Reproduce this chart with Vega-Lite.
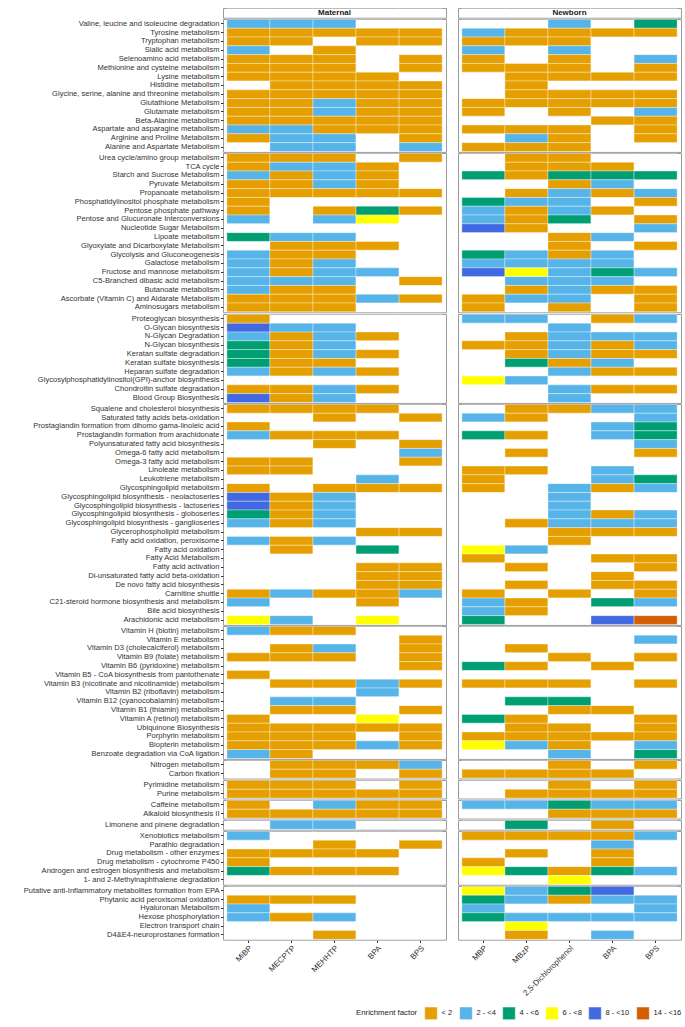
{
  "$schema": "https://vega.github.io/schema/vega-lite/v6.json",
  "padding": {"left": 22, "top": 7, "right": 5, "bottom": 5},
  "config": {
    "font": "Liberation Sans",
    "view": {"stroke": "#9a9a9a", "strokeWidth": 1},
    "axis": {"grid": false, "domain": false, "tickColor": "#333333", "tickSize": 2.5, "labelColor": "#333333", "labelFontSize": 7.55, "labelPadding": 1.5, "labelLimit": 400, "title": null}
  },
  "data": {"values": [
    {"g":0,"o":0,"p":"Maternal","s":"Maternal"},
    {"g":0,"o":0,"p":"Newborn","s":"Newborn"},
    {"g":1,"o":1,"p":"Valine, leucine and isoleucine degradation","s":"Maternal","MiBP":"2 - <4","MECPTP":"2 - <4","MEHHTP":"2 - <4"},
    {"g":1,"o":1,"p":"Valine, leucine and isoleucine degradation","s":"Newborn","2,5-Dichlorophenol":"2 - <4","BPS":"4 - <6"},
    {"g":1,"o":2,"p":"Tyrosine metabolism","s":"Maternal","MiBP":"< 2","MECPTP":"< 2","MEHHTP":"< 2","BPA":"< 2","BPS":"< 2"},
    {"g":1,"o":2,"p":"Tyrosine metabolism","s":"Newborn","MBP":"2 - <4","MBzP":"< 2","2,5-Dichlorophenol":"< 2","BPA":"< 2","BPS":"< 2"},
    {"g":1,"o":3,"p":"Tryptophan metabolism","s":"Maternal","MiBP":"< 2","MECPTP":"< 2","BPA":"< 2","BPS":"< 2"},
    {"g":1,"o":3,"p":"Tryptophan metabolism","s":"Newborn","MBP":"< 2","MBzP":"< 2","2,5-Dichlorophenol":"< 2"},
    {"g":1,"o":4,"p":"Sialic acid metabolism","s":"Maternal","MiBP":"2 - <4","MEHHTP":"< 2"},
    {"g":1,"o":4,"p":"Sialic acid metabolism","s":"Newborn","MBP":"2 - <4","2,5-Dichlorophenol":"2 - <4"},
    {"g":1,"o":5,"p":"Selenoamino acid metabolism","s":"Maternal","MiBP":"< 2","MECPTP":"< 2","MEHHTP":"< 2","BPS":"< 2"},
    {"g":1,"o":5,"p":"Selenoamino acid metabolism","s":"Newborn","MBP":"< 2","2,5-Dichlorophenol":"< 2","BPS":"2 - <4"},
    {"g":1,"o":6,"p":"Methionine and cysteine metabolism","s":"Maternal","MiBP":"< 2","MECPTP":"< 2","MEHHTP":"< 2","BPS":"< 2"},
    {"g":1,"o":6,"p":"Methionine and cysteine metabolism","s":"Newborn","MBP":"< 2","MBzP":"< 2","2,5-Dichlorophenol":"< 2","BPS":"< 2"},
    {"g":1,"o":7,"p":"Lysine metabolism","s":"Maternal","MiBP":"< 2","MECPTP":"< 2","MEHHTP":"< 2","BPA":"< 2"},
    {"g":1,"o":7,"p":"Lysine metabolism","s":"Newborn","MBzP":"< 2","2,5-Dichlorophenol":"< 2","BPA":"< 2","BPS":"< 2"},
    {"g":1,"o":8,"p":"Histidine metabolism","s":"Maternal","MECPTP":"< 2","MEHHTP":"< 2","BPA":"< 2","BPS":"< 2"},
    {"g":1,"o":8,"p":"Histidine metabolism","s":"Newborn","MBzP":"< 2"},
    {"g":1,"o":9,"p":"Glycine, serine, alanine and threonine metabolism","s":"Maternal","MiBP":"< 2","MECPTP":"< 2","MEHHTP":"< 2","BPA":"< 2","BPS":"< 2"},
    {"g":1,"o":9,"p":"Glycine, serine, alanine and threonine metabolism","s":"Newborn","MBzP":"< 2","2,5-Dichlorophenol":"< 2","BPA":"< 2","BPS":"< 2"},
    {"g":1,"o":10,"p":"Glutathione Metabolism","s":"Maternal","MiBP":"< 2","MECPTP":"< 2","MEHHTP":"2 - <4","BPA":"< 2","BPS":"< 2"},
    {"g":1,"o":10,"p":"Glutathione Metabolism","s":"Newborn","MBP":"< 2","MBzP":"< 2","2,5-Dichlorophenol":"< 2","BPA":"< 2","BPS":"< 2"},
    {"g":1,"o":11,"p":"Glutamate metabolism","s":"Maternal","MiBP":"< 2","MECPTP":"< 2","MEHHTP":"2 - <4","BPA":"< 2","BPS":"< 2"},
    {"g":1,"o":11,"p":"Glutamate metabolism","s":"Newborn","MBP":"< 2","2,5-Dichlorophenol":"< 2","BPS":"2 - <4"},
    {"g":1,"o":12,"p":"Beta-Alanine metabolism","s":"Maternal","MiBP":"< 2","MECPTP":"< 2","MEHHTP":"< 2","BPA":"< 2","BPS":"< 2"},
    {"g":1,"o":12,"p":"Beta-Alanine metabolism","s":"Newborn","BPA":"< 2","BPS":"< 2"},
    {"g":1,"o":13,"p":"Aspartate and asparagine metabolism","s":"Maternal","MiBP":"2 - <4","MECPTP":"2 - <4","MEHHTP":"< 2","BPA":"< 2","BPS":"< 2"},
    {"g":1,"o":13,"p":"Aspartate and asparagine metabolism","s":"Newborn","MBP":"< 2","MBzP":"< 2","2,5-Dichlorophenol":"< 2","BPS":"< 2"},
    {"g":1,"o":14,"p":"Arginine and Proline Metabolism","s":"Maternal","MiBP":"< 2","MECPTP":"2 - <4","MEHHTP":"2 - <4","BPS":"< 2"},
    {"g":1,"o":14,"p":"Arginine and Proline Metabolism","s":"Newborn","MBzP":"2 - <4","2,5-Dichlorophenol":"< 2","BPS":"< 2"},
    {"g":1,"o":15,"p":"Alanine and Aspartate Metabolism","s":"Maternal","MECPTP":"2 - <4","MEHHTP":"2 - <4","BPS":"2 - <4"},
    {"g":1,"o":15,"p":"Alanine and Aspartate Metabolism","s":"Newborn","MBP":"< 2","MBzP":"< 2","2,5-Dichlorophenol":"< 2"},

    {"g":2,"o":16,"p":"Urea cycle/amino group metabolism","s":"Maternal","MiBP":"< 2","MECPTP":"< 2","MEHHTP":"< 2","BPS":"< 2"},
    {"g":2,"o":16,"p":"Urea cycle/amino group metabolism","s":"Newborn","MBzP":"< 2","2,5-Dichlorophenol":"< 2"},
    {"g":2,"o":17,"p":"TCA cycle","s":"Maternal","MiBP":"< 2","MECPTP":"2 - <4","MEHHTP":"2 - <4","BPA":"< 2"},
    {"g":2,"o":17,"p":"TCA cycle","s":"Newborn","MBzP":"< 2","2,5-Dichlorophenol":"< 2","BPA":"< 2"},
    {"g":2,"o":18,"p":"Starch and Sucrose Metabolism","s":"Maternal","MiBP":"2 - <4","MECPTP":"< 2","MEHHTP":"2 - <4","BPA":"< 2"},
    {"g":2,"o":18,"p":"Starch and Sucrose Metabolism","s":"Newborn","MBP":"4 - <6","MBzP":"< 2","2,5-Dichlorophenol":"4 - <6","BPA":"4 - <6","BPS":"4 - <6"},
    {"g":2,"o":19,"p":"Pyruvate Metabolism","s":"Maternal","MiBP":"< 2","MECPTP":"< 2","MEHHTP":"2 - <4","BPA":"< 2"},
    {"g":2,"o":19,"p":"Pyruvate Metabolism","s":"Newborn","2,5-Dichlorophenol":"< 2","BPA":"2 - <4"},
    {"g":2,"o":20,"p":"Propanoate metabolism","s":"Maternal","MiBP":"< 2","MECPTP":"< 2","MEHHTP":"< 2","BPA":"< 2","BPS":"< 2"},
    {"g":2,"o":20,"p":"Propanoate metabolism","s":"Newborn","MBzP":"< 2","2,5-Dichlorophenol":"2 - <4","BPA":"< 2","BPS":"2 - <4"},
    {"g":2,"o":21,"p":"Phosphatidylinositol phosphate metabolism","s":"Maternal","MiBP":"< 2"},
    {"g":2,"o":21,"p":"Phosphatidylinositol phosphate metabolism","s":"Newborn","MBP":"4 - <6","MBzP":"2 - <4","2,5-Dichlorophenol":"2 - <4","BPS":"< 2"},
    {"g":2,"o":22,"p":"Pentose phosphate pathway","s":"Maternal","MiBP":"< 2","MEHHTP":"< 2","BPA":"4 - <6","BPS":"< 2"},
    {"g":2,"o":22,"p":"Pentose phosphate pathway","s":"Newborn","MBP":"2 - <4","MBzP":"< 2","2,5-Dichlorophenol":"2 - <4","BPA":"< 2"},
    {"g":2,"o":23,"p":"Pentose and Glucuronate Interconversions","s":"Maternal","MiBP":"2 - <4","MEHHTP":"2 - <4","BPA":"6 - <8"},
    {"g":2,"o":23,"p":"Pentose and Glucuronate Interconversions","s":"Newborn","MBP":"2 - <4","MBzP":"< 2","2,5-Dichlorophenol":"4 - <6","BPS":"< 2"},
    {"g":2,"o":24,"p":"Nucleotide Sugar Metabolism","s":"Maternal"},
    {"g":2,"o":24,"p":"Nucleotide Sugar Metabolism","s":"Newborn","MBP":"8 - <10","MBzP":"< 2","BPS":"2 - <4"},
    {"g":2,"o":25,"p":"Lipoate metabolism","s":"Maternal","MiBP":"4 - <6","MECPTP":"2 - <4","MEHHTP":"2 - <4"},
    {"g":2,"o":25,"p":"Lipoate metabolism","s":"Newborn","2,5-Dichlorophenol":"< 2","BPA":"2 - <4"},
    {"g":2,"o":26,"p":"Glyoxylate and Dicarboxylate Metabolism","s":"Maternal","MECPTP":"< 2","MEHHTP":"< 2","BPA":"< 2"},
    {"g":2,"o":26,"p":"Glyoxylate and Dicarboxylate Metabolism","s":"Newborn","2,5-Dichlorophenol":"< 2","BPS":"< 2"},
    {"g":2,"o":27,"p":"Glycolysis and Gluconeogenesis","s":"Maternal","MiBP":"2 - <4","MECPTP":"< 2","MEHHTP":"< 2"},
    {"g":2,"o":27,"p":"Glycolysis and Gluconeogenesis","s":"Newborn","MBP":"4 - <6","MBzP":"2 - <4","2,5-Dichlorophenol":"< 2","BPA":"2 - <4"},
    {"g":2,"o":28,"p":"Galactose metabolism","s":"Maternal","MiBP":"2 - <4","MECPTP":"< 2","MEHHTP":"2 - <4"},
    {"g":2,"o":28,"p":"Galactose metabolism","s":"Newborn","MBP":"2 - <4","MBzP":"2 - <4","2,5-Dichlorophenol":"2 - <4","BPA":"2 - <4"},
    {"g":2,"o":29,"p":"Fructose and mannose metabolism","s":"Maternal","MiBP":"2 - <4","MECPTP":"< 2","MEHHTP":"2 - <4","BPA":"2 - <4"},
    {"g":2,"o":29,"p":"Fructose and mannose metabolism","s":"Newborn","MBP":"8 - <10","MBzP":"6 - <8","2,5-Dichlorophenol":"2 - <4","BPA":"4 - <6","BPS":"2 - <4"},
    {"g":2,"o":30,"p":"C5-Branched dibasic acid metabolism","s":"Maternal","MiBP":"2 - <4","MECPTP":"2 - <4","MEHHTP":"2 - <4","BPS":"< 2"},
    {"g":2,"o":30,"p":"C5-Branched dibasic acid metabolism","s":"Newborn","MBzP":"2 - <4","2,5-Dichlorophenol":"2 - <4","BPA":"2 - <4"},
    {"g":2,"o":31,"p":"Butanoate metabolism","s":"Maternal","MiBP":"2 - <4","MECPTP":"< 2","MEHHTP":"< 2"},
    {"g":2,"o":31,"p":"Butanoate metabolism","s":"Newborn","MBzP":"< 2","2,5-Dichlorophenol":"2 - <4","BPA":"< 2","BPS":"< 2"},
    {"g":2,"o":32,"p":"Ascorbate (Vitamin C) and Aldarate Metabolism","s":"Maternal","MiBP":"< 2","MECPTP":"< 2","MEHHTP":"< 2","BPA":"2 - <4","BPS":"< 2"},
    {"g":2,"o":32,"p":"Ascorbate (Vitamin C) and Aldarate Metabolism","s":"Newborn","MBP":"< 2","MBzP":"2 - <4","2,5-Dichlorophenol":"2 - <4","BPS":"< 2"},
    {"g":2,"o":33,"p":"Aminosugars metabolism","s":"Maternal","MiBP":"< 2","MECPTP":"< 2","MEHHTP":"< 2"},
    {"g":2,"o":33,"p":"Aminosugars metabolism","s":"Newborn","MBP":"< 2","2,5-Dichlorophenol":"< 2","BPS":"< 2"},

    {"g":3,"o":34,"p":"Proteoglycan biosynthesis","s":"Maternal","MiBP":"< 2"},
    {"g":3,"o":34,"p":"Proteoglycan biosynthesis","s":"Newborn","MBP":"2 - <4","MBzP":"2 - <4","BPA":"< 2","BPS":"2 - <4"},
    {"g":3,"o":35,"p":"O-Glycan biosynthesis","s":"Maternal","MiBP":"8 - <10","MECPTP":"2 - <4","MEHHTP":"2 - <4"},
    {"g":3,"o":35,"p":"O-Glycan biosynthesis","s":"Newborn","2,5-Dichlorophenol":"2 - <4"},
    {"g":3,"o":36,"p":"N-Glycan Degradation","s":"Maternal","MiBP":"2 - <4","MECPTP":"< 2","MEHHTP":"2 - <4","BPA":"< 2"},
    {"g":3,"o":36,"p":"N-Glycan Degradation","s":"Newborn","MBzP":"< 2","2,5-Dichlorophenol":"2 - <4","BPA":"2 - <4","BPS":"2 - <4"},
    {"g":3,"o":37,"p":"N-Glycan biosynthesis","s":"Maternal","MiBP":"4 - <6","MECPTP":"< 2","MEHHTP":"2 - <4"},
    {"g":3,"o":37,"p":"N-Glycan biosynthesis","s":"Newborn","MBP":"< 2","MBzP":"< 2","2,5-Dichlorophenol":"2 - <4","BPA":"< 2","BPS":"2 - <4"},
    {"g":3,"o":38,"p":"Keratan sulfate degradation","s":"Maternal","MiBP":"4 - <6","MECPTP":"< 2","MEHHTP":"2 - <4","BPA":"< 2"},
    {"g":3,"o":38,"p":"Keratan sulfate degradation","s":"Newborn","MBzP":"< 2","2,5-Dichlorophenol":"2 - <4","BPA":"< 2","BPS":"< 2"},
    {"g":3,"o":39,"p":"Keratan sulfate biosynthesis","s":"Maternal","MiBP":"4 - <6","MECPTP":"< 2","MEHHTP":"< 2"},
    {"g":3,"o":39,"p":"Keratan sulfate biosynthesis","s":"Newborn","MBzP":"4 - <6","2,5-Dichlorophenol":"< 2","BPA":"2 - <4"},
    {"g":3,"o":40,"p":"Heparan sulfate degradation","s":"Maternal","MiBP":"2 - <4","MECPTP":"< 2","MEHHTP":"2 - <4","BPA":"< 2"},
    {"g":3,"o":40,"p":"Heparan sulfate degradation","s":"Newborn","2,5-Dichlorophenol":"2 - <4","BPA":"< 2","BPS":"< 2"},
    {"g":3,"o":41,"p":"Glycosylphosphatidylinositol(GPI)-anchor biosynthesis","s":"Maternal"},
    {"g":3,"o":41,"p":"Glycosylphosphatidylinositol(GPI)-anchor biosynthesis","s":"Newborn","MBP":"6 - <8","MBzP":"2 - <4"},
    {"g":3,"o":42,"p":"Chondroitin sulfate degradation","s":"Maternal","MiBP":"< 2","MECPTP":"< 2","MEHHTP":"2 - <4","BPA":"< 2"},
    {"g":3,"o":42,"p":"Chondroitin sulfate degradation","s":"Newborn","2,5-Dichlorophenol":"2 - <4","BPA":"< 2","BPS":"< 2"},
    {"g":3,"o":43,"p":"Blood Group Biosynthesis","s":"Maternal","MiBP":"8 - <10","MECPTP":"< 2","MEHHTP":"2 - <4"},
    {"g":3,"o":43,"p":"Blood Group Biosynthesis","s":"Newborn","2,5-Dichlorophenol":"2 - <4"},

    {"g":4,"o":44,"p":"Squalene and cholesterol biosynthesis","s":"Maternal","MiBP":"< 2","MECPTP":"< 2","MEHHTP":"< 2","BPA":"< 2"},
    {"g":4,"o":44,"p":"Squalene and cholesterol biosynthesis","s":"Newborn","MBzP":"< 2","2,5-Dichlorophenol":"< 2","BPA":"2 - <4","BPS":"2 - <4"},
    {"g":4,"o":45,"p":"Saturated fatty acids beta-oxidation","s":"Maternal","MEHHTP":"< 2","BPS":"< 2"},
    {"g":4,"o":45,"p":"Saturated fatty acids beta-oxidation","s":"Newborn","MBP":"2 - <4","MBzP":"< 2","BPS":"2 - <4"},
    {"g":4,"o":46,"p":"Prostaglandin formation from dihomo gama-linoleic acid","s":"Maternal","MiBP":"< 2"},
    {"g":4,"o":46,"p":"Prostaglandin formation from dihomo gama-linoleic acid","s":"Newborn","BPA":"2 - <4","BPS":"4 - <6"},
    {"g":4,"o":47,"p":"Prostaglandin formation from arachidonate","s":"Maternal","MiBP":"2 - <4","MECPTP":"< 2","MEHHTP":"< 2","BPA":"< 2"},
    {"g":4,"o":47,"p":"Prostaglandin formation from arachidonate","s":"Newborn","MBP":"4 - <6","MBzP":"< 2","BPA":"2 - <4","BPS":"4 - <6"},
    {"g":4,"o":48,"p":"Polyunsaturated fatty acid biosynthesis","s":"Maternal","MEHHTP":"< 2","BPS":"< 2"},
    {"g":4,"o":48,"p":"Polyunsaturated fatty acid biosynthesis","s":"Newborn","BPS":"2 - <4"},
    {"g":4,"o":49,"p":"Omega-6 fatty acid metabolism","s":"Maternal","BPS":"2 - <4"},
    {"g":4,"o":49,"p":"Omega-6 fatty acid metabolism","s":"Newborn","MBzP":"< 2","BPS":"< 2"},
    {"g":4,"o":50,"p":"Omega-3 fatty acid metabolism","s":"Maternal","MiBP":"< 2","MECPTP":"< 2","BPS":"< 2"},
    {"g":4,"o":50,"p":"Omega-3 fatty acid metabolism","s":"Newborn"},
    {"g":4,"o":51,"p":"Linoleate metabolism","s":"Maternal","MiBP":"< 2","MECPTP":"< 2"},
    {"g":4,"o":51,"p":"Linoleate metabolism","s":"Newborn","MBP":"< 2","MBzP":"< 2","BPA":"2 - <4"},
    {"g":4,"o":52,"p":"Leukotriene metabolism","s":"Maternal","BPA":"2 - <4"},
    {"g":4,"o":52,"p":"Leukotriene metabolism","s":"Newborn","MBP":"< 2","BPA":"2 - <4","BPS":"4 - <6"},
    {"g":4,"o":53,"p":"Glycosphingolipid metabolism","s":"Maternal","MiBP":"< 2","MEHHTP":"< 2","BPA":"< 2","BPS":"< 2"},
    {"g":4,"o":53,"p":"Glycosphingolipid metabolism","s":"Newborn","MBP":"< 2","2,5-Dichlorophenol":"2 - <4","BPA":"< 2","BPS":"2 - <4"},
    {"g":4,"o":54,"p":"Glycosphingolipid biosynthesis - neolactoseries","s":"Maternal","MiBP":"8 - <10","MECPTP":"< 2","MEHHTP":"2 - <4"},
    {"g":4,"o":54,"p":"Glycosphingolipid biosynthesis - neolactoseries","s":"Newborn","2,5-Dichlorophenol":"2 - <4"},
    {"g":4,"o":55,"p":"Glycosphingolipid biosynthesis - lactoseries","s":"Maternal","MiBP":"8 - <10","MECPTP":"< 2","MEHHTP":"2 - <4"},
    {"g":4,"o":55,"p":"Glycosphingolipid biosynthesis - lactoseries","s":"Newborn","2,5-Dichlorophenol":"2 - <4"},
    {"g":4,"o":56,"p":"Glycosphingolipid biosynthesis - globoseries","s":"Maternal","MiBP":"4 - <6","MECPTP":"< 2","MEHHTP":"2 - <4"},
    {"g":4,"o":56,"p":"Glycosphingolipid biosynthesis - globoseries","s":"Newborn","2,5-Dichlorophenol":"2 - <4","BPA":"< 2","BPS":"2 - <4"},
    {"g":4,"o":57,"p":"Glycosphingolipid biosynthesis - ganglioseries","s":"Maternal","MiBP":"2 - <4","MECPTP":"< 2","MEHHTP":"2 - <4"},
    {"g":4,"o":57,"p":"Glycosphingolipid biosynthesis - ganglioseries","s":"Newborn","MBzP":"< 2","2,5-Dichlorophenol":"2 - <4","BPA":"2 - <4","BPS":"2 - <4"},
    {"g":4,"o":58,"p":"Glycerophospholipid metabolism","s":"Maternal","BPA":"< 2","BPS":"< 2"},
    {"g":4,"o":58,"p":"Glycerophospholipid metabolism","s":"Newborn","2,5-Dichlorophenol":"< 2","BPA":"< 2","BPS":"< 2"},
    {"g":4,"o":59,"p":"Fatty acid oxidation, peroxisome","s":"Maternal","MiBP":"2 - <4","MECPTP":"< 2","MEHHTP":"2 - <4"},
    {"g":4,"o":59,"p":"Fatty acid oxidation, peroxisome","s":"Newborn","2,5-Dichlorophenol":"< 2"},
    {"g":4,"o":60,"p":"Fatty acid oxidation","s":"Maternal","MECPTP":"< 2","BPA":"4 - <6"},
    {"g":4,"o":60,"p":"Fatty acid oxidation","s":"Newborn","MBP":"6 - <8","MBzP":"2 - <4"},
    {"g":4,"o":61,"p":"Fatty Acid Metabolism","s":"Maternal"},
    {"g":4,"o":61,"p":"Fatty Acid Metabolism","s":"Newborn","MBP":"< 2","BPA":"< 2","BPS":"< 2"},
    {"g":4,"o":62,"p":"Fatty acid activation","s":"Maternal","BPA":"< 2","BPS":"< 2"},
    {"g":4,"o":62,"p":"Fatty acid activation","s":"Newborn","MBzP":"< 2","BPS":"< 2"},
    {"g":4,"o":63,"p":"Di-unsaturated fatty acid beta-oxidation","s":"Maternal","BPA":"< 2","BPS":"< 2"},
    {"g":4,"o":63,"p":"Di-unsaturated fatty acid beta-oxidation","s":"Newborn","BPA":"< 2"},
    {"g":4,"o":64,"p":"De novo fatty acid biosynthesis","s":"Maternal","BPA":"< 2","BPS":"< 2"},
    {"g":4,"o":64,"p":"De novo fatty acid biosynthesis","s":"Newborn","MBzP":"< 2","BPA":"< 2","BPS":"< 2"},
    {"g":4,"o":65,"p":"Carnitine shuttle","s":"Maternal","MiBP":"< 2","MECPTP":"2 - <4","MEHHTP":"< 2","BPA":"< 2","BPS":"2 - <4"},
    {"g":4,"o":65,"p":"Carnitine shuttle","s":"Newborn","MBP":"< 2","2,5-Dichlorophenol":"< 2","BPS":"< 2"},
    {"g":4,"o":66,"p":"C21-steroid hormone biosynthesis and metabolism","s":"Maternal","MiBP":"2 - <4","BPA":"< 2"},
    {"g":4,"o":66,"p":"C21-steroid hormone biosynthesis and metabolism","s":"Newborn","MBP":"2 - <4","MBzP":"< 2","BPA":"4 - <6","BPS":"2 - <4"},
    {"g":4,"o":67,"p":"Bile acid biosynthesis","s":"Maternal"},
    {"g":4,"o":67,"p":"Bile acid biosynthesis","s":"Newborn","MBP":"2 - <4","MBzP":"< 2"},
    {"g":4,"o":68,"p":"Arachidonic acid metabolism","s":"Maternal","MiBP":"6 - <8","MECPTP":"2 - <4","BPA":"6 - <8"},
    {"g":4,"o":68,"p":"Arachidonic acid metabolism","s":"Newborn","MBP":"4 - <6","BPA":"8 - <10","BPS":"14 - <16"},

    {"g":5,"o":69,"p":"Vitamin H (biotin) metabolism","s":"Maternal","MiBP":"2 - <4","MECPTP":"< 2","MEHHTP":"< 2"},
    {"g":5,"o":69,"p":"Vitamin H (biotin) metabolism","s":"Newborn"},
    {"g":5,"o":70,"p":"Vitamin E metabolism","s":"Maternal","BPS":"< 2"},
    {"g":5,"o":70,"p":"Vitamin E metabolism","s":"Newborn","BPS":"2 - <4"},
    {"g":5,"o":71,"p":"Vitamin D3 (cholecalciferol) metabolism","s":"Maternal","MECPTP":"< 2","MEHHTP":"2 - <4","BPS":"< 2"},
    {"g":5,"o":71,"p":"Vitamin D3 (cholecalciferol) metabolism","s":"Newborn","MBzP":"< 2"},
    {"g":5,"o":72,"p":"Vitamin B9 (folate) metabolism","s":"Maternal","MiBP":"< 2","MECPTP":"< 2","MEHHTP":"< 2","BPS":"< 2"},
    {"g":5,"o":72,"p":"Vitamin B9 (folate) metabolism","s":"Newborn","2,5-Dichlorophenol":"< 2","BPS":"< 2"},
    {"g":5,"o":73,"p":"Vitamin B6 (pyridoxine) metabolism","s":"Maternal","BPS":"< 2"},
    {"g":5,"o":73,"p":"Vitamin B6 (pyridoxine) metabolism","s":"Newborn","MBP":"4 - <6","MBzP":"< 2","BPA":"< 2"},
    {"g":5,"o":74,"p":"Vitamin B5 - CoA biosynthesis from pantothenate","s":"Maternal","MiBP":"< 2"},
    {"g":5,"o":74,"p":"Vitamin B5 - CoA biosynthesis from pantothenate","s":"Newborn"},
    {"g":5,"o":75,"p":"Vitamin B3 (nicotinate and nicotinamide) metabolism","s":"Maternal","MECPTP":"< 2","MEHHTP":"< 2","BPA":"2 - <4","BPS":"< 2"},
    {"g":5,"o":75,"p":"Vitamin B3 (nicotinate and nicotinamide) metabolism","s":"Newborn","MBP":"< 2","MBzP":"< 2","2,5-Dichlorophenol":"< 2","BPS":"< 2"},
    {"g":5,"o":76,"p":"Vitamin B2 (riboflavin) metabolism","s":"Maternal","BPA":"2 - <4"},
    {"g":5,"o":76,"p":"Vitamin B2 (riboflavin) metabolism","s":"Newborn"},
    {"g":5,"o":77,"p":"Vitamin B12 (cyanocobalamin) metabolism","s":"Maternal","MECPTP":"2 - <4","MEHHTP":"2 - <4"},
    {"g":5,"o":77,"p":"Vitamin B12 (cyanocobalamin) metabolism","s":"Newborn","MBzP":"4 - <6","2,5-Dichlorophenol":"4 - <6"},
    {"g":5,"o":78,"p":"Vitamin B1 (thiamin) metabolism","s":"Maternal","MECPTP":"< 2","MEHHTP":"< 2","BPS":"< 2"},
    {"g":5,"o":78,"p":"Vitamin B1 (thiamin) metabolism","s":"Newborn","2,5-Dichlorophenol":"< 2","BPA":"< 2"},
    {"g":5,"o":79,"p":"Vitamin A (retinol) metabolism","s":"Maternal","MiBP":"< 2","BPA":"6 - <8"},
    {"g":5,"o":79,"p":"Vitamin A (retinol) metabolism","s":"Newborn","MBP":"4 - <6","MBzP":"< 2","BPS":"< 2"},
    {"g":5,"o":80,"p":"Ubiquinone Biosynthesis","s":"Maternal","MiBP":"< 2","MECPTP":"< 2","MEHHTP":"< 2","BPA":"< 2","BPS":"< 2"},
    {"g":5,"o":80,"p":"Ubiquinone Biosynthesis","s":"Newborn","MBzP":"< 2","2,5-Dichlorophenol":"< 2","BPS":"< 2"},
    {"g":5,"o":81,"p":"Porphyrin metabolism","s":"Maternal","MiBP":"< 2","MECPTP":"< 2","MEHHTP":"< 2","BPS":"< 2"},
    {"g":5,"o":81,"p":"Porphyrin metabolism","s":"Newborn","MBP":"< 2","MBzP":"< 2","2,5-Dichlorophenol":"< 2","BPA":"< 2","BPS":"< 2"},
    {"g":5,"o":82,"p":"Biopterin metabolism","s":"Maternal","MiBP":"< 2","MECPTP":"< 2","MEHHTP":"< 2","BPA":"2 - <4","BPS":"< 2"},
    {"g":5,"o":82,"p":"Biopterin metabolism","s":"Newborn","MBP":"6 - <8","MBzP":"2 - <4","2,5-Dichlorophenol":"< 2","BPS":"2 - <4"},
    {"g":5,"o":83,"p":"Benzoate degradation via CoA ligation","s":"Maternal","MiBP":"2 - <4","MECPTP":"< 2"},
    {"g":5,"o":83,"p":"Benzoate degradation via CoA ligation","s":"Newborn","2,5-Dichlorophenol":"2 - <4","BPS":"4 - <6"},

    {"g":6,"o":84,"p":"Nitrogen metabolism","s":"Maternal","MECPTP":"< 2","MEHHTP":"< 2","BPA":"< 2","BPS":"2 - <4"},
    {"g":6,"o":84,"p":"Nitrogen metabolism","s":"Newborn","2,5-Dichlorophenol":"< 2","BPS":"< 2"},
    {"g":6,"o":85,"p":"Carbon fixation","s":"Maternal","MECPTP":"< 2","MEHHTP":"< 2","BPS":"< 2"},
    {"g":6,"o":85,"p":"Carbon fixation","s":"Newborn","MBP":"< 2","MBzP":"< 2","2,5-Dichlorophenol":"< 2","BPA":"< 2"},

    {"g":7,"o":86,"p":"Pyrimidine metabolism","s":"Maternal","MiBP":"< 2","MECPTP":"< 2","MEHHTP":"< 2","BPS":"< 2"},
    {"g":7,"o":86,"p":"Pyrimidine metabolism","s":"Newborn","2,5-Dichlorophenol":"< 2","BPS":"< 2"},
    {"g":7,"o":87,"p":"Purine metabolism","s":"Maternal","MiBP":"< 2","MECPTP":"< 2","MEHHTP":"< 2","BPA":"< 2","BPS":"< 2"},
    {"g":7,"o":87,"p":"Purine metabolism","s":"Newborn","MBzP":"< 2","2,5-Dichlorophenol":"< 2","BPA":"< 2","BPS":"< 2"},

    {"g":8,"o":88,"p":"Caffeine metabolism","s":"Maternal","MiBP":"< 2","MEHHTP":"2 - <4","BPA":"< 2","BPS":"< 2"},
    {"g":8,"o":88,"p":"Caffeine metabolism","s":"Newborn","MBP":"2 - <4","MBzP":"2 - <4","2,5-Dichlorophenol":"4 - <6","BPA":"2 - <4","BPS":"2 - <4"},
    {"g":8,"o":89,"p":"Alkaloid biosynthesis II","s":"Maternal","MiBP":"< 2","MECPTP":"< 2","MEHHTP":"< 2","BPA":"< 2","BPS":"< 2"},
    {"g":8,"o":89,"p":"Alkaloid biosynthesis II","s":"Newborn","2,5-Dichlorophenol":"< 2","BPA":"< 2","BPS":"< 2"},

    {"g":9,"o":90,"p":"Limonene and pinene degradation","s":"Maternal","MECPTP":"2 - <4","MEHHTP":"2 - <4"},
    {"g":9,"o":90,"p":"Limonene and pinene degradation","s":"Newborn","MBzP":"4 - <6","BPA":"< 2"},

    {"g":10,"o":91,"p":"Xenobiotics metabolism","s":"Maternal","MiBP":"2 - <4"},
    {"g":10,"o":91,"p":"Xenobiotics metabolism","s":"Newborn","MBP":"< 2","MBzP":"< 2","2,5-Dichlorophenol":"< 2","BPA":"< 2","BPS":"2 - <4"},
    {"g":10,"o":92,"p":"Parathio degradation","s":"Maternal","MEHHTP":"< 2","BPS":"< 2"},
    {"g":10,"o":92,"p":"Parathio degradation","s":"Newborn","BPA":"2 - <4"},
    {"g":10,"o":93,"p":"Drug metabolism - other enzymes","s":"Maternal","MiBP":"< 2","MECPTP":"< 2","MEHHTP":"< 2","BPA":"< 2"},
    {"g":10,"o":93,"p":"Drug metabolism - other enzymes","s":"Newborn","MBzP":"< 2","BPA":"< 2"},
    {"g":10,"o":94,"p":"Drug metabolism - cytochrome P450","s":"Maternal","MiBP":"< 2"},
    {"g":10,"o":94,"p":"Drug metabolism - cytochrome P450","s":"Newborn","MBP":"< 2","BPA":"< 2"},
    {"g":10,"o":95,"p":"Androgen and estrogen biosynthesis and metabolism","s":"Maternal","MiBP":"4 - <6","MECPTP":"< 2","MEHHTP":"< 2","BPA":"< 2"},
    {"g":10,"o":95,"p":"Androgen and estrogen biosynthesis and metabolism","s":"Newborn","MBP":"6 - <8","MBzP":"4 - <6","2,5-Dichlorophenol":"< 2","BPA":"4 - <6","BPS":"2 - <4"},
    {"g":10,"o":96,"p":"1- and 2-Methylnaphthalene degradation","s":"Maternal"},
    {"g":10,"o":96,"p":"1- and 2-Methylnaphthalene degradation","s":"Newborn","2,5-Dichlorophenol":"6 - <8"},

    {"g":11,"o":97,"p":"Putative anti-Inflammatory metabolites formation from EPA","s":"Maternal"},
    {"g":11,"o":97,"p":"Putative anti-Inflammatory metabolites formation from EPA","s":"Newborn","MBP":"6 - <8","MBzP":"2 - <4","2,5-Dichlorophenol":"4 - <6","BPA":"8 - <10"},
    {"g":11,"o":98,"p":"Phytanic acid peroxisomal oxidation","s":"Maternal","MiBP":"< 2","MECPTP":"< 2","MEHHTP":"< 2"},
    {"g":11,"o":98,"p":"Phytanic acid peroxisomal oxidation","s":"Newborn","MBP":"4 - <6","MBzP":"2 - <4","2,5-Dichlorophenol":"< 2","BPA":"2 - <4","BPS":"2 - <4"},
    {"g":11,"o":99,"p":"Hyaluronan Metabolism","s":"Maternal","MiBP":"2 - <4"},
    {"g":11,"o":99,"p":"Hyaluronan Metabolism","s":"Newborn","MBP":"2 - <4","BPS":"2 - <4"},
    {"g":11,"o":100,"p":"Hexose phosphorylation","s":"Maternal","MiBP":"2 - <4","MECPTP":"< 2","MEHHTP":"2 - <4"},
    {"g":11,"o":100,"p":"Hexose phosphorylation","s":"Newborn","MBP":"4 - <6","MBzP":"2 - <4","2,5-Dichlorophenol":"2 - <4","BPA":"2 - <4","BPS":"2 - <4"},
    {"g":11,"o":101,"p":"Electron transport chain","s":"Maternal"},
    {"g":11,"o":101,"p":"Electron transport chain","s":"Newborn","MBzP":"6 - <8"},
    {"g":11,"o":102,"p":"D4&E4-neuroprostanes formation","s":"Maternal","MEHHTP":"< 2"},
    {"g":11,"o":102,"p":"D4&E4-neuroprostanes formation","s":"Newborn","MBzP":"< 2","BPA":"2 - <4"}
  ]},
  "spacing": 10,
  "hconcat": [
    {
      "transform": [
        {"filter": "datum.s == 'Maternal'"},
        {"fold": ["MiBP", "MECPTP", "MEHHTP", "BPA", "BPS"], "as": ["col", "ef"]}
      ],
      "facet": {
        "row": {"field": "g", "type": "ordinal", "header": {"labels": false, "title": null, "labelPadding": 0, "titlePadding": 0}}
      },
      "align": "each",
      "bounds": "flush",
      "spacing": {"row": 1},
      "resolve": {"scale": {"y": "independent"}},
      "spec": {
        "width": 223,
        "height": {"step": 8.8},
        "encoding": {
          "y": {"field": "p", "type": "nominal", "sort": {"field": "o", "op": "min"}, "scale": {"paddingInner": 0, "paddingOuter": 0.05},
                "axis": {"labelExpr": "datum.value == 'Maternal' ? '' : datum.label", "tickOpacity": {"condition": {"test": "datum.value == 'Maternal'", "value": 0}, "value": 1}}}
        },
        "layer": [
          {
            "mark": {"type": "rect", "stroke": "white", "strokeWidth": 0.5, "strokeOpacity": 0.7},
            "encoding": {
              "x": {"field": "col", "type": "nominal", "scale": {"domain": ["MiBP", "MECPTP", "MEHHTP", "BPA", "BPS"], "paddingInner": 0, "paddingOuter": 0.09}, "axis": {"labelAngle": -45, "labelFontSize": 8}},
              "color": {
                "condition": {"test": "datum.ef == null", "value": "transparent"},
                "field": "ef", "type": "nominal",
                "scale": {"domain": ["< 2", "2 - <4", "4 - <6", "6 - <8", "8 - <10", "14 - <16"], "range": ["#E69F00", "#56B4E9", "#009E73", "#FFFF00", "#4169E1", "#D55E00"]},
                "legend": {"title": "Enrichment factor", "orient": "none", "legendX": 133, "legendY": 998, "direction": "horizontal", "columns": 6, "titleOrient": "left", "titleFontWeight": "normal", "titleFontSize": 7.8, "titleColor": "#1a1a1a", "titlePadding": 6, "labelFontSize": 7.5, "labelColor": "#1a1a1a", "symbolType": "square", "symbolSize": 160, "symbolStrokeColor": "white", "symbolStrokeWidth": 0.5, "symbolOpacity": 1, "columnPadding": 5, "labelOffset": 3.5}
              }
            }
          },
          {
            "transform": [{"filter": "datum.g == 0 && datum.col == 'MiBP'"}],
            "mark": {"type": "text", "fontWeight": "bold", "fontSize": 8, "color": "#1a1a1a", "baseline": "middle"},
            "encoding": {
              "x": {"datum": "MEHHTP"},
              "text": {"field": "s"}
            }
          }
        ]
      }
    },
    {
      "transform": [
        {"filter": "datum.s == 'Newborn'"},
        {"fold": ["MBP", "MBzP", "2,5-Dichlorophenol", "BPA", "BPS"], "as": ["col", "ef"]}
      ],
      "facet": {
        "row": {"field": "g", "type": "ordinal", "header": {"labels": false, "title": null, "labelPadding": 0, "titlePadding": 0}}
      },
      "align": "each",
      "bounds": "flush",
      "spacing": {"row": 1},
      "resolve": {"scale": {"y": "independent"}},
      "spec": {
        "width": 223,
        "height": {"step": 8.8},
        "encoding": {
          "y": {"field": "p", "type": "nominal", "sort": {"field": "o", "op": "min"}, "scale": {"paddingInner": 0, "paddingOuter": 0.05}, "axis": null}
        },
        "layer": [
          {
            "mark": {"type": "rect", "stroke": "white", "strokeWidth": 0.5, "strokeOpacity": 0.7},
            "encoding": {
              "x": {"field": "col", "type": "nominal", "scale": {"domain": ["MBP", "MBzP", "2,5-Dichlorophenol", "BPA", "BPS"], "paddingInner": 0, "paddingOuter": 0.09}, "axis": {"labelAngle": -45, "labelFontSize": 8}},
              "color": {
                "condition": {"test": "datum.ef == null", "value": "transparent"},
                "field": "ef", "type": "nominal",
                "scale": {"domain": ["< 2", "2 - <4", "4 - <6", "6 - <8", "8 - <10", "14 - <16"], "range": ["#E69F00", "#56B4E9", "#009E73", "#FFFF00", "#4169E1", "#D55E00"]},
                "legend": null
              }
            }
          },
          {
            "transform": [{"filter": "datum.g == 0 && datum.col == 'MBP'"}],
            "mark": {"type": "text", "fontWeight": "bold", "fontSize": 8, "color": "#1a1a1a", "baseline": "middle"},
            "encoding": {
              "x": {"datum": "2,5-Dichlorophenol"},
              "text": {"field": "s"}
            }
          }
        ]
      }
    }
  ]
}
